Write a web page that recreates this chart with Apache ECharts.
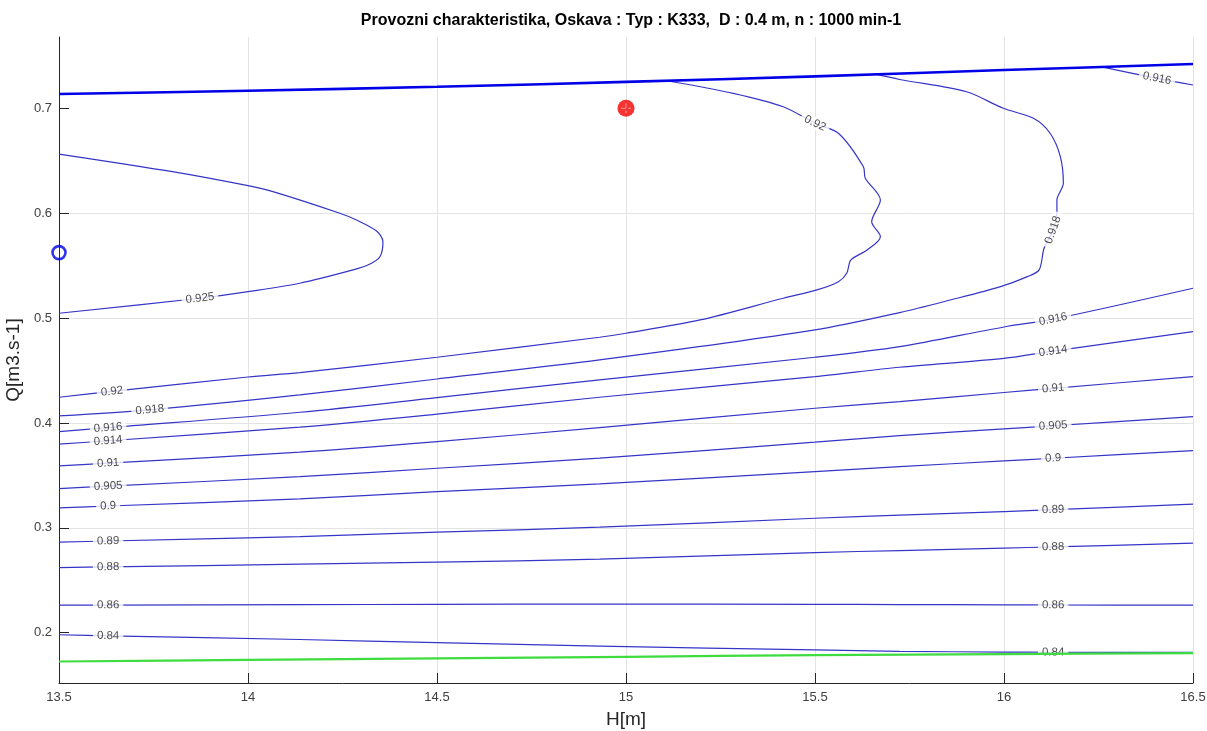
<!DOCTYPE html>
<html><head><meta charset="utf-8">
<script src="https://cdn.jsdelivr.net/npm/echarts@6/dist/echarts.min.js"></script>
<style>html,body{margin:0;padding:0;background:#fff}#c{width:1207px;height:731px}</style>
</head><body><div id="c"></div>
<script>
// ---- axis ticks ----
const xTicks = [13.5, 14, 14.5, 15, 15.5, 16, 16.5];
const yTicks = [0.2, 0.3, 0.4, 0.5, 0.6, 0.7];

// ---- boundary curves ----
const hEdge = [13.5, 14, 14.5, 15, 15.5, 16, 16.5];
const qTopEdge = [0.7136, 0.7168, 0.7205, 0.7252, 0.7305, 0.7365, 0.7422];
const qGreen = [0.1725, 0.174, 0.1755, 0.177, 0.1785, 0.1795, 0.1805];

// ---- lower (open) contours sharing one H grid ----
const hLower = [13.5, 13.63, 14.137, 14.5, 14.93, 15.5, 15.724, 16, 16.13, 16.5];
const q084  = [0.198, 0.197, 0.1935, 0.1905, 0.1872, 0.1835, 0.1822, 0.1815, 0.1813, 0.1812];
const q086  = [0.2262, 0.2263, 0.2267, 0.227, 0.2273, 0.227, 0.2268, 0.2265, 0.2264, 0.2262];
const q088  = [0.262, 0.2627, 0.2653, 0.2672, 0.2701, 0.2764, 0.2783, 0.2806, 0.2818, 0.2853];
const q089  = [0.2863, 0.2874, 0.2916, 0.2958, 0.3006, 0.3091, 0.312, 0.3155, 0.3173, 0.3225];
const q0900 = [0.319, 0.3208, 0.3276, 0.3345, 0.3418, 0.3536, 0.3583, 0.3638, 0.3663, 0.3736];
const q0905 = [0.3374, 0.3397, 0.3488, 0.3568, 0.3664, 0.3816, 0.3879, 0.3943, 0.3973, 0.406];
const q0910 = [0.359, 0.3617, 0.3721, 0.3822, 0.3955, 0.414, 0.4203, 0.429, 0.433, 0.4441];
const q0914 = [0.3797, 0.383, 0.3959, 0.4083, 0.4245, 0.4441, 0.4531, 0.4615, 0.4685, 0.487];
const q0916 = [0.3917, 0.3955, 0.4102, 0.4241, 0.4411, 0.4626, 0.4727, 0.4915, 0.4989, 0.5284];

// ---- 0.918 contour (from top edge, down the wall, back to the left edge) ----
const h0918 = [15.655, 15.724, 15.901, 15.998, 16.078, 16.122, 16.149, 16.157, 16.14, 16.14, 16.13, 16.106, 16.093, 16.062, 15.991, 15.858, 15.724, 15.5, 14.93, 14.5, 14.137, 13.74, 13.5];
const q0918 = [0.733, 0.7275, 0.7158, 0.700, 0.6905, 0.6762, 0.6539, 0.6285, 0.6126, 0.6014, 0.584, 0.5665, 0.5459, 0.5395, 0.53, 0.5172, 0.5052, 0.4887, 0.4601, 0.4419, 0.4267, 0.4125, 0.4067];

// ---- 0.92 contour ----
const h092 = [15.108, 15.284, 15.416, 15.5, 15.562, 15.628, 15.633, 15.673, 15.65, 15.673, 15.638, 15.595, 15.584, 15.562, 15.505, 15.416, 15.196, 15.0, 14.93, 14.5, 14.137, 14.0, 13.64, 13.5];
const q092 = [0.7263, 0.7143, 0.7015, 0.6857, 0.6762, 0.6443, 0.6333, 0.6126, 0.5919, 0.5776, 0.5649, 0.5554, 0.5427, 0.5347, 0.5268, 0.5189, 0.4982, 0.4855, 0.4817, 0.4626, 0.448, 0.4438, 0.43, 0.4245];

// ---- 0.925 contour ----
const h0925 = [13.5, 13.8, 14.0, 14.066, 14.243, 14.287, 14.34, 14.357, 14.349, 14.32, 14.278, 14.137, 14.0, 13.873, 13.5];
const q0925 = [0.6564, 0.6396, 0.6262, 0.6205, 0.5999, 0.5935, 0.583, 0.5728, 0.5585, 0.551, 0.5459, 0.5332, 0.5252, 0.5189, 0.5046];

// ---- 0.916 piece at top right ----
const h0916top = [16.255, 16.405, 16.5];
const q0916top = [0.7397, 0.7286, 0.7222];

// ---- markers ----
const pointBlue = [13.5, 0.5624];
const pointRed = [15.0, 0.7];

// ---- contour list (level text, H, Q, indices of label points) ----
const contours = [
  {level: '0.84', h: hLower, q: q084, labels: [1, 8]},
  {level: '0.86', h: hLower, q: q086, labels: [1, 8]},
  {level: '0.88', h: hLower, q: q088, labels: [1, 8]},
  {level: '0.89', h: hLower, q: q089, labels: [1, 8]},
  {level: '0.9', h: hLower, q: q0900, labels: [1, 8]},
  {level: '0.905', h: hLower, q: q0905, labels: [1, 8]},
  {level: '0.91', h: hLower, q: q0910, labels: [1, 8]},
  {level: '0.914', h: hLower, q: q0914, labels: [1, 8]},
  {level: '0.916', h: hLower, q: q0916, labels: [1, 8]},
  {level: '0.918', h: h0918, q: q0918, labels: [10, 21]},
  {level: '0.92', h: h092, q: q092, labels: [3, 22]},
  {level: '0.925', h: h0925, q: q0925, labels: [13]},
  {level: '0.916', h: h0916top, q: q0916top, labels: [1]}
];

const FONT = 'Liberation Sans, Arial, Helvetica, sans-serif';
const chart = echarts.init(document.getElementById('c'));
const toPts = (h, q) => h.map((x, i) => [x, q[i]]);

const series = [];
contours.forEach(c => {
  series.push({
    type: 'line', data: toPts(c.h, c.q), showSymbol: false, symbol: 'none', smooth: 0.3,
    lineStyle: {color: '#3535c8', width: 1.2}, z: 2, silent: true, animation: false
  });
});
series.push({
  type: 'line', data: toPts(hEdge, qTopEdge), showSymbol: false, symbol: 'none', smooth: 0.3,
  lineStyle: {color: '#0000e8', width: 2.6}, z: 3, silent: true, animation: false
});

const option = {
  animation: false,
  backgroundColor: '#fff',
  title: {
    text: 'Provozni charakteristika, Oskava : Typ : K333,  D : 0.4 m, n : 1000 min-1',
    left: 626, top: 8, textAlign: 'center',
    textStyle: {fontFamily: FONT, fontSize: 16, fontWeight: 'bold', color: '#000'}
  },
  grid: {left: 59, right: 14, top: 37, bottom: 48, containLabel: false, outerBoundsMode: 'none'},
  xAxis: {
    type: 'value', min: xTicks[0], max: xTicks[xTicks.length - 1], interval: 0.5,
    name: 'H[m]', nameLocation: 'middle', nameGap: 27,
    nameTextStyle: {fontFamily: FONT, fontSize: 19, color: '#262626'},
    axisLine: {show: true, onZero: false, lineStyle: {color: '#262626', width: 1}},
    axisTick: {show: true, inside: true, length: 10, lineStyle: {color: '#262626'}},
    axisLabel: {fontFamily: FONT, fontSize: 13, color: '#404040', margin: 8},
    splitLine: {show: true, lineStyle: {color: '#e3e3e3', width: 1}}
  },
  yAxis: {
    type: 'value', min: 0.152, max: 0.768,
    name: 'Q[m3.s-1]', nameLocation: 'middle', nameGap: 28, nameRotate: 90,
    nameTextStyle: {fontFamily: FONT, fontSize: 19, color: '#262626'},
    axisLine: {show: true, onZero: false, lineStyle: {color: '#262626', width: 1}},
    axisTick: {show: true, inside: true, length: 10, customValues: yTicks, lineStyle: {color: '#262626'}},
    axisLabel: {fontFamily: FONT, fontSize: 13, color: '#404040', margin: 7, customValues: yTicks,
      formatter: v => String(+v.toFixed(2))},
    splitLine: {show: true, showMinLine: false, showMaxLine: false, lineStyle: {color: '#e3e3e3', width: 1}}
  },
  series: series
};
chart.setOption(option);

// contour labels, rotated along the line in pixel space
function rotAt(pts, i) {
  const a = chart.convertToPixel({gridIndex: 0}, pts[Math.max(0, i - 1)]);
  const b = chart.convertToPixel({gridIndex: 0}, pts[Math.min(pts.length - 1, i + 1)]);
  let ang = Math.atan2(-(b[1] - a[1]), b[0] - a[0]) * 180 / Math.PI;
  if (ang > 90) ang -= 180;
  if (ang < -90) ang += 180;
  return ang;
}
const labelData = [];
contours.forEach(c => {
  const pts = toPts(c.h, c.q);
  c.labels.forEach(i => {
    labelData.push({
      value: pts[i],
      label: {rotate: rotAt(pts, i), formatter: c.level}
    });
  });
});
series.push({
  type: 'scatter', data: labelData, symbolSize: 1, itemStyle: {color: 'rgba(0,0,0,0)'},
  label: {show: true, position: 'inside', fontFamily: FONT, fontSize: 11.5, color: '#1a1a1a',
    backgroundColor: '#fff', padding: [0, 4]},
  z: 4, silent: true, animation: false
});
series.push({
  type: 'line', data: toPts(hEdge, qGreen), showSymbol: false, symbol: 'none', smooth: 0.3,
  lineStyle: {color: '#3fdc3f', width: 2.2}, z: 5, silent: true, animation: false
});
series.push({
  type: 'scatter', data: [pointBlue], symbol: 'circle', symbolSize: 13,
  itemStyle: {color: 'rgba(255,255,255,0)', borderColor: '#0000e8', borderWidth: 2.6},
  z: 6, silent: true, animation: false
});
series.push({
  type: 'scatter', data: [pointRed], symbol: 'circle', symbolSize: 17,
  itemStyle: {color: '#f20000'}, z: 6, silent: true, animation: false
});
series.push({
  type: 'scatter', data: [pointRed], symbol: 'path://M0,5L10,5M5,0L5,10', symbolSize: 10,
  itemStyle: {color: 'rgba(0,0,0,0)', borderColor: '#ff9c9c', borderWidth: 1.2, borderType: 'dashed'},
  z: 7, silent: true, animation: false
});
chart.setOption({series: series});
</script>
</body></html>
